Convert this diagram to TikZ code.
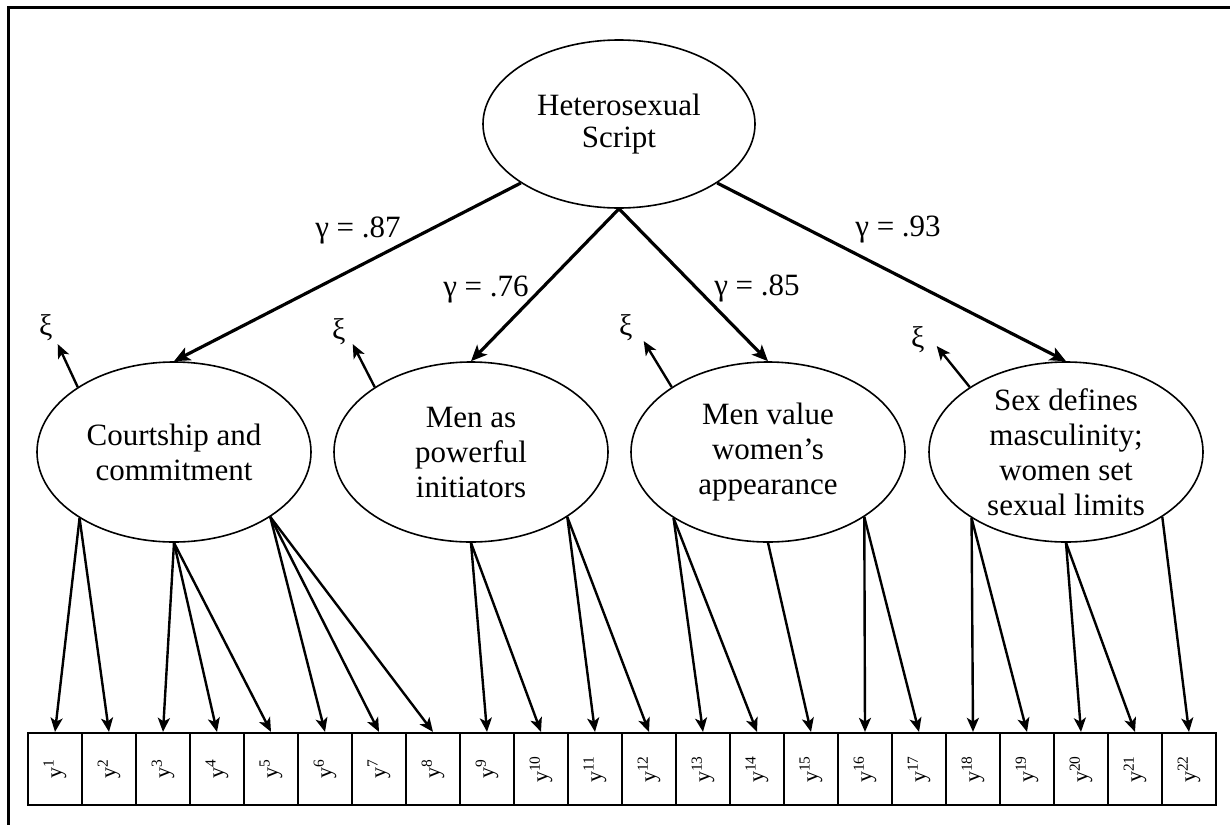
\documentclass[tikz,border=0pt]{standalone}
\usepackage{fontspec}
\setmainfont{Liberation Serif}
\usetikzlibrary{arrows.meta}
\usetikzlibrary{positioning}
\usetikzlibrary{shapes.geometric}
\usetikzlibrary{calc}
\tikzset {
  factor node/.style = {
    draw = black,
    ellipse,
    line width = 0.8pt,
    inner sep = 0pt,
    align = center,
    font = \fontsize{15.5}{17.5}\selectfont
  },
  % first-order factor
  latent/.style = {
    factor node,
    minimum width = 137pt,
    minimum height = 90pt
  },
  % second-order factor
  top latent/.style = {
    factor node,
    minimum width = 136pt,
    minimum height = 84pt,
    font = \fontsize{15.5}{16}\selectfont
  },
  % observed item
  item/.style = {
    draw = black,
    rectangle,
    line width = 1.1pt,
    minimum width = 27pt,
    minimum height = 36pt,
    inner sep = 0pt,
    font = \fontsize{11}{13}\selectfont
  },
  coef/.style = {
    inner sep = 1pt,
    font = \fontsize{15.5}{18}\selectfont
  },
  dist/.style = {
    inner sep = 0pt,
    font = \fontsize{15}{17}\selectfont
  }
}
\tikzset {
  % structural path
  gpath/.style = {
    -{Stealth[length = 8pt, width = 7pt, inset = 2pt]},
    line width = 1.6pt
  },
  % loading path
  lpath/.style = {
    -{Stealth[length = 7pt, width = 6pt, inset = 1.8pt]},
    line width = 1.2pt
  },
  % disturbance arrow
  dpath/.style = {
    lpath
  },
  border line/.style = {
    draw = black,
    line width = 1.5pt
  }
}

\begin{document}
\begin{tikzpicture}[x = 0.5pt, y = -0.5pt]
    \useasboundingbox (0,0) rectangle (1230,825);
    \draw[border line] (1230,7) -- (8,7) -- (8,825);

    \node[top latent] (script) at (619,124) {Heterosexual\\Script};
    \node[latent] (court) at (174,452) {Courtship and\\commitment};
    \node[latent] (power) at (471,452) {Men as\\powerful\\initiators};
    \node[latent] (looks) at (768,452) {Men value\\women’s\\appearance};
    \node[latent, inner ysep = -4pt] (limits) at (1066,452)
      {Sex defines\\masculinity;\\women set\\sexual limits};

    % observed items
    \foreach \i in {1,...,22}
      \node[item] (y\i) at ({1+54*\i},769) {\rotatebox{90}{y\textsuperscript{\i}}};

    % second-order paths
    \draw[gpath] (script.211) -- (court.north);
    \draw[gpath] (script.south) -- (power.north);
    \draw[gpath] (script.south) -- (looks.north);
    \draw[gpath] (script.329) -- (limits.north);
    \node[coef] (g-court) at (358,230) {γ = .87};
    \node[coef] (g-power) at (486,290) {γ = .76};
    \node[coef] (g-looks) at (757,288) {γ = .85};
    \node[coef] (g-limits) at (898,230) {γ = .93};

    % disturbances
    \coordinate (d-court) at ($(court.146)+(-20,-43)$);
    \coordinate (d-power) at ($(power.146)+(-22,-43)$);
    \coordinate (d-looks) at ($(looks.146)+(-28,-46)$);
    \coordinate (d-limits) at ($(limits.146)+(-33,-41)$);
    \draw[dpath] (court.146) -- (d-court);
    \draw[dpath] (power.146) -- (d-power);
    \draw[dpath] (looks.146) -- (d-looks);
    \draw[dpath] (limits.146) -- (d-limits);
    \node[dist] (xi-court) at ($(d-court)+(-12,-16)$) {ξ};
    \node[dist] (xi-power) at ($(d-power)+(-14,-12)$) {ξ};
    \node[dist] (xi-looks) at ($(d-looks)+(-18,-13)$) {ξ};
    \node[dist] (xi-limits) at ($(d-limits)+(-19,-6)$) {ξ};

    % loadings
    \foreach \j in {1,2}
      \draw[lpath] (court.215) -- (y\j.north);
    \foreach \j in {3,4,5}
      \draw[lpath] (court.south) -- (y\j.north);
    \foreach \j in {6,7,8}
      \draw[lpath] (court.326) -- (y\j.north);
    \foreach \j in {9,10}
      \draw[lpath] (power.south) -- (y\j.north);
    \foreach \j in {11,12}
      \draw[lpath] (power.326) -- (y\j.north);
    \foreach \j in {13,14}
      \draw[lpath] (looks.215) -- (y\j.north);
    \draw[lpath] (looks.south) -- (y15.north);
    \foreach \j in {16,17}
      \draw[lpath] (looks.326) -- (y\j.north);
    \foreach \j in {18,19}
      \draw[lpath] (limits.215) -- (y\j.north);
    \foreach \j in {20,21}
      \draw[lpath] (limits.south) -- (y\j.north);
    \draw[lpath] (limits.326) -- (y22.north);
\end{tikzpicture}
\end{document}
